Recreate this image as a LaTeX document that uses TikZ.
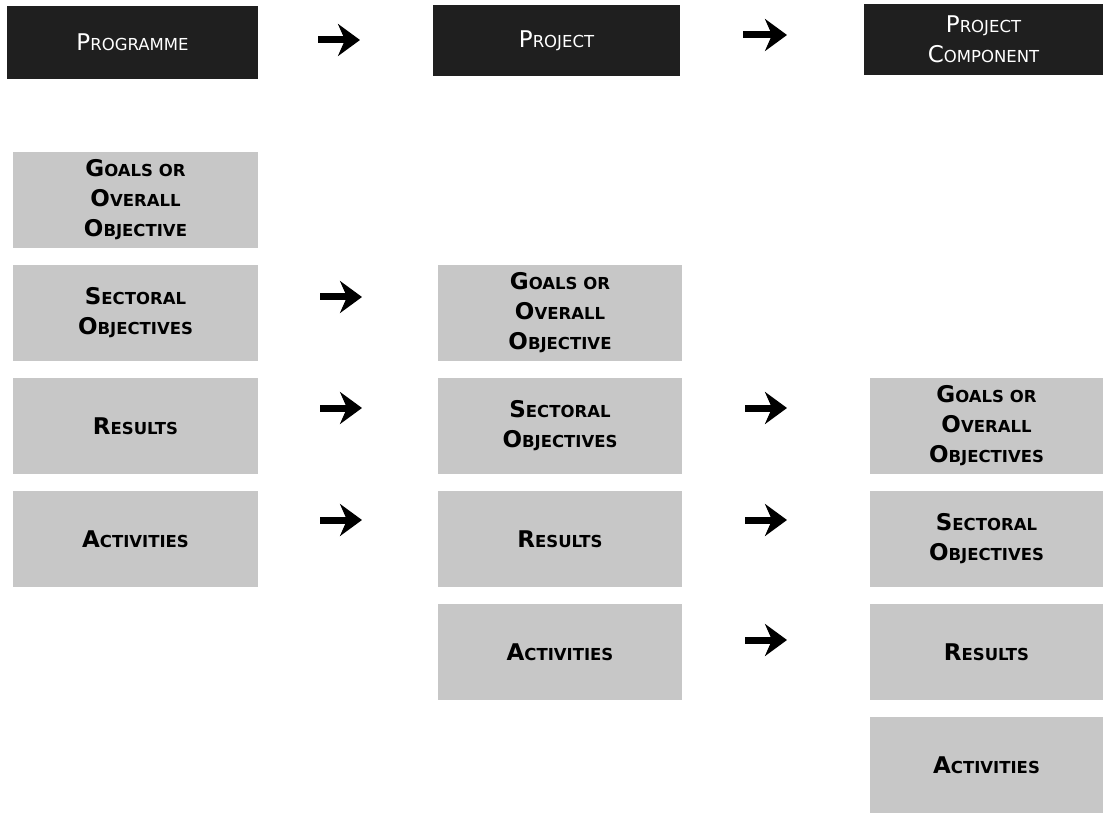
\documentclass[tikz,border=0pt]{standalone}
\usepackage{fontspec}
\setmainfont{DejaVu Sans}
\usetikzlibrary{arrows.meta}
\newcommand\Sc[2]{{\fontsize{23}{30}\selectfont #1}#2}
\tikzset{
  head/.style={fill=black!88, text=white, inner sep=0pt, align=center,
    font=\fontsize{16.5}{30}\selectfont},
  lvl/.style={fill=black!22, text=black, inner sep=0pt, align=center,
    font=\fontsize{16.5}{30}\selectfont\bfseries},
  bigarrow/.style={line width=7pt, -{Stealth[length=22pt, width=32pt, inset=7pt]}}
}
\begin{document}
\begin{tikzpicture}[x=1pt,y=-1pt]
\path[use as bounding box, fill=white] (0,0) rectangle (1103,818);
% headers
\node[head, minimum width=251pt, minimum height=73pt] (hp) at (132.5,42.5) {\Sc{P}{ROGRAMME}};
\node[head, minimum width=247pt, minimum height=71pt] (hj) at (556.5,40.5) {\Sc{P}{ROJECT}};
\node[head, minimum width=239pt, minimum height=71pt] (hc) at (983.5,39.5) {\Sc{P}{ROJECT}\\\Sc{C}{OMPONENT}};
% column 1
\node[lvl, minimum width=245pt, minimum height=96pt] (p1) at (135.5,200) {\Sc{G}{OALS OR}\\\Sc{O}{VERALL}\\\Sc{O}{BJECTIVE}};
\node[lvl, minimum width=245pt, minimum height=96pt] (p2) at (135.5,313) {\Sc{S}{ECTORAL}\\\Sc{O}{BJECTIVES}};
\node[lvl, minimum width=245pt, minimum height=96pt] (p3) at (135.5,426) {\Sc{R}{ESULTS}};
\node[lvl, minimum width=245pt, minimum height=96pt] (p4) at (135.5,539) {\Sc{A}{CTIVITIES}};
% column 2
\node[lvl, minimum width=244pt, minimum height=96pt] (j1) at (560,313) {\Sc{G}{OALS OR}\\\Sc{O}{VERALL}\\\Sc{O}{BJECTIVE}};
\node[lvl, minimum width=244pt, minimum height=96pt] (j2) at (560,426) {\Sc{S}{ECTORAL}\\\Sc{O}{BJECTIVES}};
\node[lvl, minimum width=244pt, minimum height=96pt] (j3) at (560,539) {\Sc{R}{ESULTS}};
\node[lvl, minimum width=244pt, minimum height=96pt] (j4) at (560,652) {\Sc{A}{CTIVITIES}};
% column 3
\node[lvl, minimum width=233pt, minimum height=96pt] (c1) at (986.5,426) {\Sc{G}{OALS OR}\\\Sc{O}{VERALL}\\\Sc{O}{BJECTIVES}};
\node[lvl, minimum width=233pt, minimum height=96pt] (c2) at (986.5,539) {\Sc{S}{ECTORAL}\\\Sc{O}{BJECTIVES}};
\node[lvl, minimum width=233pt, minimum height=96pt] (c3) at (986.5,652) {\Sc{R}{ESULTS}};
\node[lvl, minimum width=233pt, minimum height=96pt] (c4) at (986.5,765) {\Sc{A}{CTIVITIES}};
% arrows
\coordinate (t1s) at (318,40); \coordinate (t1e) at (360,40);
\coordinate (t2s) at (743,35); \coordinate (t2e) at (787,35);
\coordinate (a2s) at (320,297); \coordinate (a2e) at (362,297);
\coordinate (a3s) at (320,408); \coordinate (a3e) at (362,408);
\coordinate (a4s) at (320,520); \coordinate (a4e) at (362,520);
\coordinate (b2s) at (745,408); \coordinate (b2e) at (787,408);
\coordinate (b3s) at (745,520); \coordinate (b3e) at (787,520);
\coordinate (b4s) at (745,640); \coordinate (b4e) at (787,640);
\foreach \s/\e in {t1s/t1e,t2s/t2e,a2s/a2e,a3s/a3e,a4s/a4e,b2s/b2e,b3s/b3e,b4s/b4e}
  \draw[bigarrow] (\s) -- (\e);
\end{tikzpicture}
\end{document}
